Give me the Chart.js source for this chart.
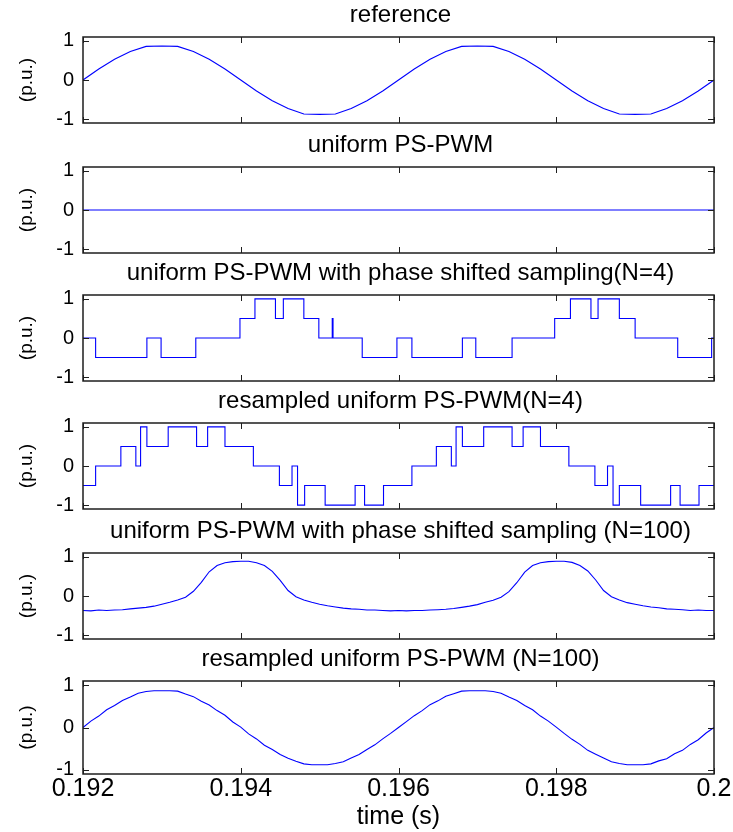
<!DOCTYPE html>
<html>
<head>
<meta charset="utf-8">
<script src="https://cdn.jsdelivr.net/npm/chart.js@4.4.0/dist/chart.umd.min.js"></script>
<style>
  html, body { margin: 0; padding: 0; background: #fff; }
  body { width: 733px; height: 832px; position: relative; overflow: hidden; }
  canvas.panel { position: absolute; left: 0; }
</style>
</head>
<body>
<script>
// axis ticks shared by all six panels
const xTickValues = [0.192, 0.194, 0.196, 0.198, 0.2];
const xTickLabels = ['0.192', '0.194', '0.196', '0.198', '0.2'];
const yTickValues = [-1, 0, 1];
const yTickLabels = ['-1', '0', '1'];

const panelTitles = [
    'reference',
    'uniform PS-PWM',
    'uniform PS-PWM with phase shifted sampling(N=4)',
    'resampled uniform PS-PWM(N=4)',
    'uniform PS-PWM with phase shifted sampling (N=100)',
    'resampled uniform PS-PWM (N=100)',
];

// reference sine, read every 0.2 ms
const coarseTimes = [
    0.1920, 0.1922, 0.1924, 0.1926, 0.1928, 0.1930, 0.1932, 0.1934, 0.1936, 0.1938,
    0.1940, 0.1942, 0.1944, 0.1946, 0.1948, 0.1950, 0.1952, 0.1954, 0.1956, 0.1958,
    0.1960, 0.1962, 0.1964, 0.1966, 0.1968, 0.1970, 0.1972, 0.1974, 0.1976, 0.1978,
    0.1980, 0.1982, 0.1984, 0.1986, 0.1988, 0.1990, 0.1992, 0.1994, 0.1996, 0.1998,
    0.2000,
];
const referenceValues = [
    0, 0.28, 0.53, 0.73, 0.86, 0.87, 0.86, 0.73, 0.53, 0.28,
    0, -0.28, -0.53, -0.73, -0.87, -0.88, -0.87, -0.73, -0.53, -0.28,
    0, 0.28, 0.53, 0.73, 0.86, 0.87, 0.86, 0.73, 0.53, 0.28,
    0, -0.28, -0.53, -0.73, -0.87, -0.88, -0.87, -0.73, -0.53, -0.28,
    0,
];

// plain uniform PS-PWM: flat zero
const uniformTimes = [0.192, 0.2];
const uniformValues = [0, 0];

// N=4, phase shifted sampling (level holds from each time)
const shiftedN4Times = [
    0.192, 0.19216, 0.19281, 0.19299, 0.19343, 0.19399, 0.19418, 0.19444, 0.19454, 0.1948,
    0.19499, 0.19516, 0.19517, 0.19554, 0.19598, 0.19617, 0.19681, 0.19698, 0.19744, 0.19798,
    0.19818, 0.19844, 0.19853, 0.1988, 0.199, 0.19954, 0.19997, 0.2,
];
const shiftedN4Levels = [
    0, -0.5, 0, -0.5, 0, 0.5, 1, 0.5, 1, 0.5,
    0, 0.5, 0, -0.5, 0, -0.5, 0, -0.5, 0, 0.5,
    1, 0.5, 1, 0.5, 0, -0.5, 0, 0,
];

// N=4, resampled
const resampledN4Times = [
    0.192, 0.19216, 0.19248, 0.19267, 0.19273, 0.19281, 0.19308, 0.19344, 0.19358, 0.1938,
    0.19416, 0.19449, 0.19465, 0.19472, 0.19481, 0.19507, 0.19545, 0.19557, 0.19581, 0.19617,
    0.19648, 0.19667, 0.19673, 0.19681, 0.19708, 0.19744, 0.19758, 0.1978, 0.19816, 0.19849,
    0.19865, 0.19872, 0.1988, 0.19907, 0.19945, 0.19957, 0.19981, 0.2,
];
const resampledN4Levels = [
    -0.5, 0, 0.5, 0, 1, 0.5, 1, 0.5, 1, 0.5,
    0, -0.5, 0, -1, -0.5, -1, -0.5, -1, -0.5, 0,
    0.5, 0, 1, 0.5, 1, 0.5, 1, 0.5, 0, -0.5,
    0, -1, -0.5, -1, -0.5, -1, -0.5, -0.5,
];

// N=100 traces, read every 0.1 ms
const fineTimes = [
    0.1920, 0.1921, 0.1922, 0.1923, 0.1924, 0.1925, 0.1926, 0.1927, 0.1928, 0.1929,
    0.1930, 0.1931, 0.1932, 0.1933, 0.1934, 0.1935, 0.1936, 0.1937, 0.1938, 0.1939,
    0.1940, 0.1941, 0.1942, 0.1943, 0.1944, 0.1945, 0.1946, 0.1947, 0.1948, 0.1949,
    0.1950, 0.1951, 0.1952, 0.1953, 0.1954, 0.1955, 0.1956, 0.1957, 0.1958, 0.1959,
    0.1960, 0.1961, 0.1962, 0.1963, 0.1964, 0.1965, 0.1966, 0.1967, 0.1968, 0.1969,
    0.1970, 0.1971, 0.1972, 0.1973, 0.1974, 0.1975, 0.1976, 0.1977, 0.1978, 0.1979,
    0.1980, 0.1981, 0.1982, 0.1983, 0.1984, 0.1985, 0.1986, 0.1987, 0.1988, 0.1989,
    0.1990, 0.1991, 0.1992, 0.1993, 0.1994, 0.1995, 0.1996, 0.1997, 0.1998, 0.1999,
    0.2000,
];
const shiftedN100Values = [
    -0.37, -0.38, -0.36, -0.37, -0.36, -0.35, -0.33, -0.31, -0.29, -0.26,
    -0.21, -0.16, -0.10, -0.03, 0.12, 0.35, 0.62, 0.78, 0.85, 0.88,
    0.89, 0.89, 0.85, 0.78, 0.63, 0.40, 0.14, -0.02, -0.10, -0.16,
    -0.21, -0.25, -0.28, -0.31, -0.33, -0.34, -0.36, -0.36, -0.37, -0.38,
    -0.37, -0.38, -0.37, -0.37, -0.36, -0.35, -0.34, -0.32, -0.29, -0.26,
    -0.22, -0.16, -0.11, -0.03, 0.11, 0.34, 0.61, 0.78, 0.85, 0.88,
    0.89, 0.89, 0.86, 0.78, 0.64, 0.41, 0.14, -0.02, -0.10, -0.17,
    -0.21, -0.25, -0.28, -0.30, -0.33, -0.34, -0.35, -0.37, -0.36, -0.37,
    -0.37,
];
const resampledN100Values = [
    0, 0.15, 0.27, 0.42, 0.52, 0.64, 0.72, 0.81, 0.85, 0.87,
    0.87, 0.87, 0.86, 0.79, 0.73, 0.62, 0.53, 0.40, 0.29, 0.13,
    0.01, -0.15, -0.27, -0.42, -0.52, -0.64, -0.73, -0.80, -0.86, -0.88,
    -0.88, -0.88, -0.85, -0.81, -0.72, -0.64, -0.52, -0.41, -0.27, -0.14,
    0, 0.14, 0.28, 0.40, 0.54, 0.63, 0.74, 0.80, 0.86, 0.87,
    0.87, 0.87, 0.85, 0.81, 0.72, 0.64, 0.52, 0.42, 0.27, 0.15,
    0.01, -0.14, -0.28, -0.40, -0.54, -0.63, -0.72, -0.81, -0.85, -0.88,
    -0.88, -0.88, -0.86, -0.79, -0.74, -0.62, -0.54, -0.40, -0.29, -0.13,
    0,
];

const panelSeries = [
    { times: coarseTimes, values: referenceValues, stepped: false },
    { times: uniformTimes, values: uniformValues, stepped: false },
    { times: shiftedN4Times, values: shiftedN4Levels, stepped: true },
    { times: resampledN4Times, values: resampledN4Levels, stepped: true },
    { times: fineTimes, values: shiftedN100Values, stepped: false },
    { times: fineTimes, values: resampledN100Values, stepped: false },
];

// page layout of the six plot boxes
const panelTops = [37, 167, 295, 423, 553, 681];
const PLOT_H = 93;
const ABOVE = 34;

Chart.defaults.font.family = '"Liberation Sans", Arial, Helvetica, sans-serif';
Chart.defaults.color = '#000';

// matlab style box, inward ticks and the subplot title
const matlabFrame = {
    id: 'matlabFrame',
    afterDatasetsDraw(chart, args, opts) {
        const { ctx, chartArea: a, scales } = chart;
        const x = scales.x, y = scales.y;
        ctx.save();
        ctx.strokeStyle = '#1e1e1e';
        ctx.lineWidth = 1.5;
        ctx.strokeRect(a.left, a.top, a.right - a.left, a.bottom - a.top);
        ctx.lineWidth = 1;
        ctx.beginPath();
        xTickValues.forEach(v => {
            const px = Math.round(x.getPixelForValue(v)) + 0.5;
            ctx.moveTo(px, a.top);
            ctx.lineTo(px, a.top + 6);
            ctx.moveTo(px, a.bottom);
            ctx.lineTo(px, a.bottom - 6);
        });
        yTickValues.forEach(v => {
            const py = Math.round(y.getPixelForValue(v)) + 0.5;
            ctx.moveTo(a.left, py);
            ctx.lineTo(a.left + 6, py);
            ctx.moveTo(a.right, py);
            ctx.lineTo(a.right - 6, py);
        });
        ctx.stroke();

        ctx.fillStyle = '#000';
        ctx.font = '24px "Liberation Sans", Arial, sans-serif';
        ctx.textAlign = 'center';
        ctx.textBaseline = 'alphabetic';
        ctx.fillText(opts.text, (a.left + a.right) / 2 + 2, a.top - 15);
        ctx.restore();
    },
};

function makePanel(idx) {
    const last = idx === panelTops.length - 1;
    const top = panelTops[idx] - ABOVE;
    const height = last ? 832 - top : ABOVE + PLOT_H + 14;

    const canvas = document.createElement('canvas');
    canvas.className = 'panel';
    canvas.width = 733;
    canvas.height = height;
    canvas.style.top = top + 'px';
    canvas.style.width = '733px';
    canvas.style.height = height + 'px';
    document.body.appendChild(canvas);

    const s = panelSeries[idx];
    const points = s.times.map((t, i) => ({ x: t, y: s.values[i] }));

    return new Chart(canvas, {
        type: 'line',
        data: {
            datasets: [{
                data: points,
                borderColor: '#0000ff',
                borderWidth: 1.1,
                pointRadius: 0,
                tension: 0,
                fill: false,
                stepped: s.stepped,
            }],
        },
        options: {
            responsive: false,
            animation: false,
            devicePixelRatio: 1,
            layout: { padding: { top: ABOVE, right: 19, bottom: last ? 0 : 14, left: 0 } },
            plugins: {
                legend: { display: false },
                tooltip: { enabled: false },
                matlabFrame: { text: panelTitles[idx] },
            },
            scales: {
                x: {
                    type: 'linear',
                    min: 0.192,
                    max: 0.2,
                    display: last,
                    afterBuildTicks: sc => { sc.ticks = xTickValues.map(v => ({ value: v })); },
                    afterFit: sc => { sc.height = last ? 58 : 0; },
                    grid: { display: false, drawTicks: false },
                    border: { display: false },
                    ticks: {
                        padding: 0,
                        maxRotation: 0,
                        autoSkip: false,
                        font: { size: 25 },
                        callback: v => xTickLabels[xTickValues.indexOf(v)],
                    },
                    title: {
                        display: true,
                        text: 'time (s)',
                        font: { size: 25 },
                        padding: { top: 0, bottom: 0 },
                    },
                },
                y: {
                    min: -1.1,
                    max: 1.1,
                    afterBuildTicks: sc => { sc.ticks = yTickValues.map(v => ({ value: v })); },
                    afterFit: sc => { sc.width = 83; },
                    grid: { display: false, drawTicks: false },
                    border: { display: false },
                    ticks: {
                        padding: 9,
                        autoSkip: false,
                        font: { size: 20 },
                        callback: v => yTickLabels[yTickValues.indexOf(v)],
                    },
                    title: {
                        display: true,
                        text: '(p.u.)',
                        font: { size: 19 },
                        padding: { top: 15, bottom: 0 },
                    },
                },
            },
        },
        plugins: [matlabFrame],
    });
}

panelTops.forEach((t, i) => makePanel(i));
</script>
</body>
</html>
